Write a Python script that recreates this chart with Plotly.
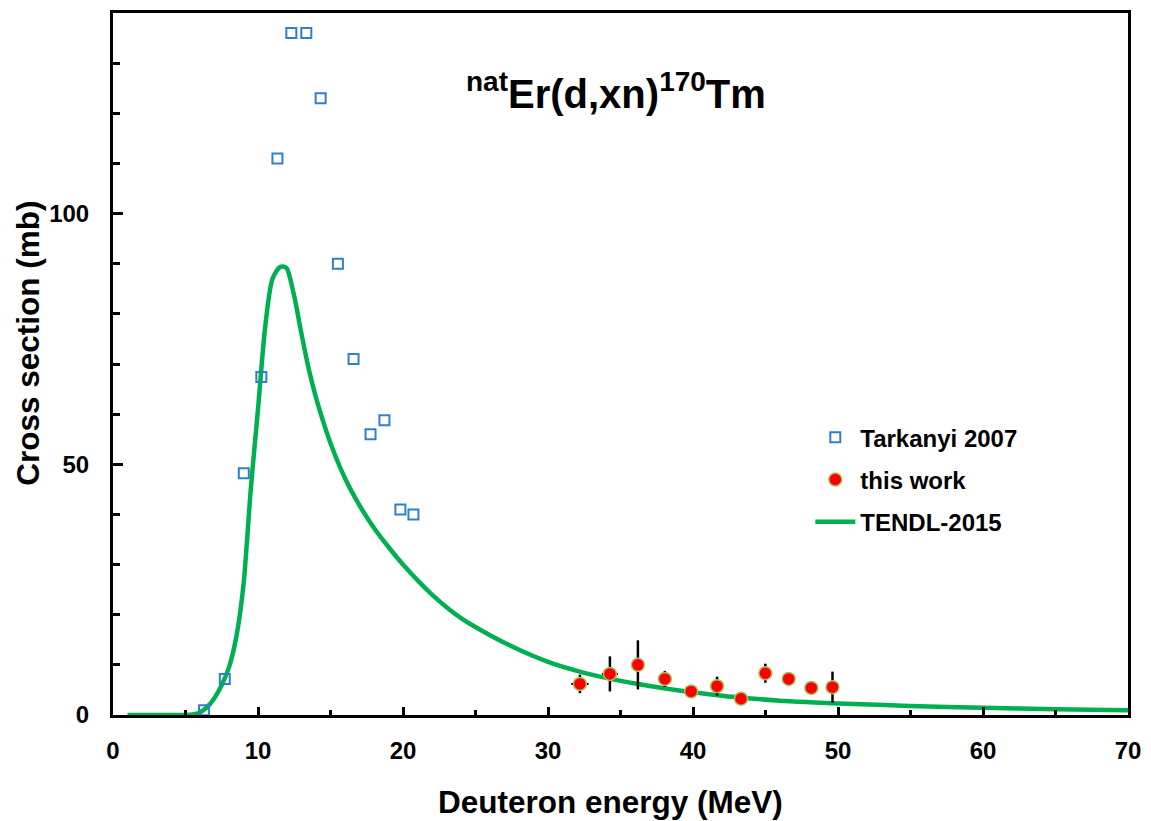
import plotly.graph_objects as go

# ---- data ----
tark_E = [6.28, 7.71, 9.02, 10.23, 11.34, 12.30, 13.33, 14.32, 15.51, 16.59, 17.76, 18.72, 19.82, 20.72]
tark_s = [0.93, 7.2, 48.2, 67.4, 111.0, 136.0, 136.0, 123.0, 90.0, 71.0, 56.0, 58.8, 41.0, 40.0]

work_E = [32.2, 34.27, 36.2, 38.06, 39.87, 41.66, 43.31, 44.99, 46.6, 48.16, 49.62]
work_s = [6.2, 8.2, 10.0, 7.2, 4.7, 5.75, 3.25, 8.33, 7.2, 5.4, 5.55]
work_ds = [1.85, 3.5, 4.9, 1.6, 0.8, 1.9, 0.6, 1.9, 0.8, 0.7, 3.1]
work_dE = [0.6, 0.55, 0.4, 0.45, 0.3, 0.3, 0.3, 0.3, 0.3, 0.3, 0.3]

tendl_E = [1, 3, 5, 5.5, 6, 6.5, 7, 7.5, 8, 8.5, 9, 9.5, 10, 10.5, 11, 11.5, 11.8, 12,
           12.5, 13, 13.5, 14, 14.5, 15, 16, 17, 18, 19, 20, 22, 24, 26, 28, 30, 32, 34,
           36, 38, 40, 42, 44, 46, 48, 50, 55, 60, 65, 70]
tendl_s = [0, 0, 0, 0.1, 0.5, 1.6, 3.4, 6.0, 9.5, 15.5, 26, 45, 61, 77.5, 87, 89.3, 89.4, 89,
           83.5, 76, 69, 63.3, 58.5, 54.2, 47.2, 41.8, 37.3, 33.5, 30.0, 24.0, 19.3, 15.9, 13.0, 10.6, 8.8, 7.4,
           6.3, 5.35, 4.55, 3.85, 3.3, 2.85, 2.55, 2.3, 1.8, 1.45, 1.15, 0.93]

FONT = "Liberation Sans, Arial, sans-serif"

fig = go.Figure()
fig.add_trace(go.Scatter(
    x=tendl_E, y=tendl_s, mode="lines", name="TENDL-2015", legendgroup="c", legendrank=3,
    line=dict(color="#00B050", width=4.5, shape="spline", smoothing=0.8),
))
fig.add_trace(go.Scatter(
    x=tark_E, y=tark_s, mode="markers", name="Tarkanyi 2007", legendgroup="a", legendrank=1,
    marker=dict(symbol="square-open", size=10, color="#2F80C9", line=dict(width=2, color="#2F80C9")),
))
fig.add_trace(go.Scatter(
    x=work_E, y=work_s, mode="markers", name="this work", legendgroup="b", legendrank=2,
    marker=dict(symbol="circle", size=13, color="#FF0000", line=dict(width=1.5, color="#A8C060")),
    error_y=dict(type="data", array=work_ds, visible=True, color="black", thickness=2.5, width=0),
    error_x=dict(type="data", array=work_dE, visible=True, color="black", thickness=2, width=0),
))

axis_common = dict(
    showline=True, linecolor="black", linewidth=3, mirror=True,
    showgrid=False, zeroline=False, ticks="inside", tickcolor="black", tickwidth=2.5,
    tickfont=dict(family=FONT, size=24, color="black", weight="bold"),
)
fig.update_xaxes(range=[0, 70], dtick=10, tick0=0, ticklen=8,
                 minor=dict(dtick=5, ticks="inside", ticklen=5, tickwidth=2.5, tickcolor="black"),
                 ticklabelstandoff=12, **axis_common)
fig.update_yaxes(range=[0, 140], dtick=50, tick0=0, ticklen=10,
                 minor=dict(dtick=10, ticks="inside", ticklen=7, tickwidth=2.5, tickcolor="black"),
                 ticklabelstandoff=16, **axis_common)

fig.update_layout(
    width=1151, height=821, autosize=False,
    margin=dict(l=113, r=21, t=10, b=106),
    paper_bgcolor="white", plot_bgcolor="white",
    showlegend=True,
    legend=dict(x=0.687, y=0.427, xanchor="left", yanchor="top",
                font=dict(family=FONT, size=24, color="black", weight="bold"),
                bgcolor="rgba(0,0,0,0)", tracegroupgap=8, traceorder="grouped", itemwidth=40),
    annotations=[
        dict(text="<sup>nat</sup>Er(d,xn)<sup>170</sup>Tm", xref="paper", yref="paper",
             x=(617 - 113) / 1017, y=(715 - 88) / 705, showarrow=False, xanchor="center", yanchor="middle",
             font=dict(family=FONT, size=40, color="black", weight="bold")),
        dict(text="Deuteron energy (MeV)", xref="paper", yref="paper",
             x=(611 - 113) / 1017, y=-(802 - 715) / 705, showarrow=False,
             xanchor="center", yanchor="middle",
             font=dict(family=FONT, size=31.5, color="black", weight="bold")),
        dict(text="Cross section (mb)", xref="paper", yref="paper",
             x=-(113 - 27) / 1017, y=(715 - 342) / 705, showarrow=False, textangle=-90,
             xanchor="center", yanchor="middle",
             font=dict(family=FONT, size=31.5, color="black", weight="bold")),
    ],
)

fig.write_html("out.html")
